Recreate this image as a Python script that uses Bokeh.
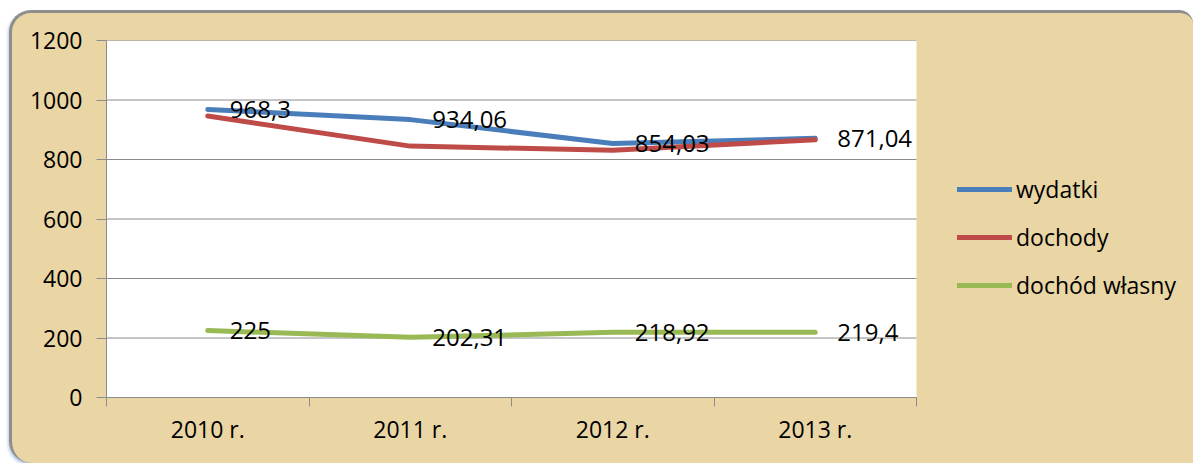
from bokeh.plotting import figure
from bokeh.models import Range1d, FixedTicker, Legend, LegendItem
from bokeh.core.properties import value
from bokeh.embed import file_html
from bokeh.resources import INLINE

# ---- data ----
years = ["2010 r.", "2011 r.", "2012 r.", "2013 r."]
wydatki = [968.3, 934.06, 854.03, 871.04]
dochody = [946, 845, 831, 866]
dochod_wlasny = [225, 202.31, 218.92, 219.4]
y_ticks = [0, 200, 400, 600, 800, 1000, 1200]
series_names = ["wydatki", "dochody", "dochód własny"]
colors = ["#4A7EBB", "#BE4B48", "#98B954"]

FONT = "Open Sans"
PARCHMENT = "#EAD5A4"
GRID = "#8C8C8C"

# layout (pixels)
W, H = 1184, 453
BL, BT, BB, BR = 94, 27, 69, 3
PLOT_W = 810                      # width of the white plot area
FRAME_W = W - BL - BR             # frame also holds the legend area

n = len(years)
xs = [i + 0.5 for i in range(n)]
edges = [i for i in range(n + 1)]
x_end = n * FRAME_W / PLOT_W


def fmt(v):
    return f"{v:g}".replace(".", ",")


p = figure(width=W, height=H, output_backend="svg", toolbar_location=None,
           x_range=Range1d(0, x_end), y_range=Range1d(0, y_ticks[-1]),
           min_border_left=BL, min_border_right=BR, min_border_top=BT,
           min_border_bottom=BB, margin=(10, 0, 0, 9),
           styles={"background-color": PARCHMENT,
                   "border-top": "3px solid #8E8E8E",
                   "border-left": "3px solid #8E8E8E",
                   "border-top-left-radius": "22px",
                   "border-top-right-radius": "14px",
                   "border-bottom-left-radius": "22px",
                   "box-shadow": "-1px 2px 3px rgba(90,130,200,0.45)",
                   "overflow": "hidden"})
p.border_fill_alpha = 0
p.background_fill_alpha = 0
p.outline_line_color = None

# white plot area + horizontal grid lines
p.quad(left=0, right=n, bottom=y_ticks[0], top=y_ticks[-1],
       fill_color="white", line_color=None)
p.segment(x0=[0] * len(y_ticks), x1=[n] * len(y_ticks), y0=y_ticks, y1=y_ticks,
          line_color=GRID, line_width=1)
p.xgrid.visible = False
p.ygrid.visible = False

# axes
p.xaxis.bounds = (0, n)
p.xaxis.ticker = FixedTicker(ticks=xs, minor_ticks=edges)
p.xaxis.major_label_overrides = {x: y for x, y in zip(xs, years)}
p.xaxis.major_tick_line_color = None
p.xaxis.major_tick_out = 0
p.xaxis.major_tick_in = 0
p.xaxis.minor_tick_line_color = GRID
p.xaxis.minor_tick_out = 9
p.xaxis.minor_tick_in = 0
p.xaxis.major_label_standoff = 6
p.xaxis.axis_line_color = GRID

p.yaxis.ticker = FixedTicker(ticks=y_ticks, minor_ticks=[])
p.yaxis.major_tick_line_color = GRID
p.yaxis.major_tick_out = 10
p.yaxis.major_tick_in = 0
p.yaxis.major_label_standoff = 14
p.yaxis.axis_line_color = GRID

for ax in (p.xaxis, p.yaxis):
    ax.major_label_text_font = FONT
    ax.major_label_text_font_size = "23px"
    ax.major_label_text_color = "black"

# lines
renderers = []
for vals, col in zip([wydatki, dochody, dochod_wlasny], colors):
    r = p.line(xs, vals, line_color=col, line_width=5, line_cap="round",
               line_join="round")
    renderers.append(r)

# data labels
for vals in (wydatki, dochod_wlasny):
    p.text(x=xs, y=vals, text=[fmt(v) for v in vals], x_offset=22,
           text_baseline="middle", text_align="left",
           text_font=value(FONT), text_font_size="24px", text_color="black")

legend = Legend(items=[LegendItem(label=s, renderers=[r])
                       for s, r in zip(series_names, renderers)],
                location=(PLOT_W + 41, 96), orientation="vertical",
                padding=0, margin=0, border_line_color=None,
                background_fill_alpha=0, glyph_width=55, glyph_height=20,
                label_height=20, spacing=16, label_standoff=4,
                label_text_font=FONT, label_text_font_size="23px",
                label_text_color="black")
p.add_layout(legend)

open("out.html", "w").write(file_html(p, INLINE))
